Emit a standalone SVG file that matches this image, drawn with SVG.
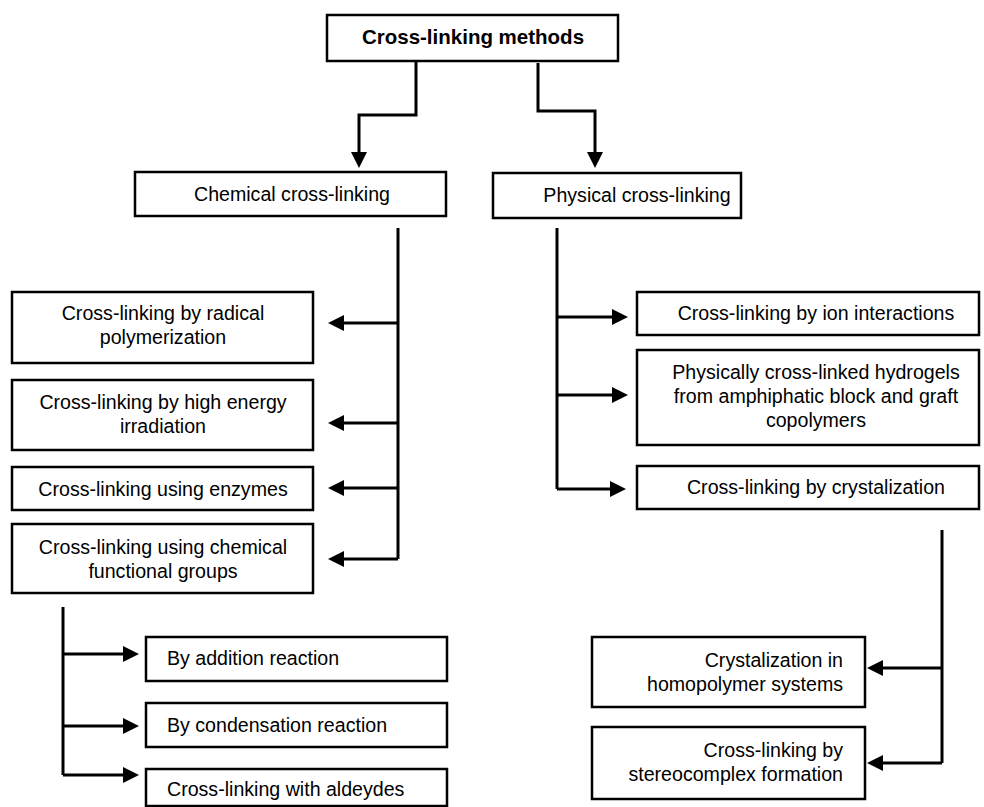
<svg xmlns="http://www.w3.org/2000/svg" width="984" height="807" viewBox="0 0 984 807">
<style>
.box{fill:#fff;stroke:#000;stroke-width:2.5}
.t{font-family:"Liberation Sans",Arial,sans-serif;font-size:19.6px;fill:#000}
.c{text-anchor:middle}
.r{text-anchor:end}
.b{font-weight:bold;font-size:20.5px}
.ln{fill:none;stroke:#000;stroke-width:3}
</style>
<defs>
<marker id="ah" markerUnits="userSpaceOnUse" markerWidth="17" markerHeight="17" refX="0" refY="8" orient="auto">
<path d="M0,0 L16,8 L0,16 z" fill="#000"/>
</marker>
</defs>
<rect width="984" height="807" fill="#fff"/>
<g id="connectors">
<path class="ln" d="M416,61 V115 H359 V152" marker-end="url(#ah)"/>
<path class="ln" d="M538,63 V111 H595 V152" marker-end="url(#ah)"/>
<path class="ln" d="M398,228 V559"/>
<path class="ln" d="M398,323 H344" marker-end="url(#ah)"/>
<path class="ln" d="M398,423 H344" marker-end="url(#ah)"/>
<path class="ln" d="M398,488 H344" marker-end="url(#ah)"/>
<path class="ln" d="M398,559 H344" marker-end="url(#ah)"/>
<path class="ln" d="M557,228 V489"/>
<path class="ln" d="M557,317 H612" marker-end="url(#ah)"/>
<path class="ln" d="M557,395 H612" marker-end="url(#ah)"/>
<path class="ln" d="M557,489 H610" marker-end="url(#ah)"/>
<path class="ln" d="M942,530 V763"/>
<path class="ln" d="M942,668 H883" marker-end="url(#ah)"/>
<path class="ln" d="M942,763 H883" marker-end="url(#ah)"/>
<path class="ln" d="M63,607 V775"/>
<path class="ln" d="M63,654 H123" marker-end="url(#ah)"/>
<path class="ln" d="M63,726 H123" marker-end="url(#ah)"/>
<path class="ln" d="M63,775 H123" marker-end="url(#ah)"/>
</g>
<g id="root">
<rect class="box" x="327" y="15" width="291" height="46"/>
<text class="t c b" x="473" y="44">Cross-linking methods</text>
</g>
<g id="chemical">
<rect class="box" x="135" y="172" width="311" height="44"/>
<text class="t c" x="292" y="201">Chemical cross-linking</text>
</g>
<g id="physical">
<rect class="box" x="493" y="173" width="248" height="45"/>
<text class="t c" x="637" y="202">Physical cross-linking</text>
</g>
<g id="radical">
<rect class="box" x="12" y="292" width="301" height="71"/>
<text class="t c" x="163" y="320">Cross-linking by radical</text>
<text class="t c" x="163" y="344">polymerization</text>
</g>
<g id="irradiation">
<rect class="box" x="12" y="380" width="301" height="70"/>
<text class="t c" x="163" y="409">Cross-linking by high energy</text>
<text class="t c" x="163" y="433">irradiation</text>
</g>
<g id="enzymes">
<rect class="box" x="12" y="467" width="301" height="43"/>
<text class="t c" x="163" y="496">Cross-linking using enzymes</text>
</g>
<g id="functional">
<rect class="box" x="12" y="524" width="301" height="69"/>
<text class="t c" x="163" y="554">Cross-linking using chemical</text>
<text class="t c" x="163" y="578">functional groups</text>
</g>
<g id="ion">
<rect class="box" x="637" y="292" width="342" height="43"/>
<text class="t c" x="816" y="320">Cross-linking by ion interactions</text>
</g>
<g id="hydrogels">
<rect class="box" x="637" y="350" width="342" height="95"/>
<text class="t c" x="816" y="379">Physically cross-linked hydrogels</text>
<text class="t c" x="816" y="403">from amphiphatic block and graft</text>
<text class="t c" x="816" y="427">copolymers</text>
</g>
<g id="crystalization">
<rect class="box" x="637" y="466" width="342" height="43"/>
<text class="t c" x="816" y="494">Cross-linking by crystalization</text>
</g>
<g id="homopolymer">
<rect class="box" x="592" y="637" width="273" height="70"/>
<text class="t r" x="843" y="667">Crystalization in</text>
<text class="t r" x="843" y="691">homopolymer systems</text>
</g>
<g id="stereocomplex">
<rect class="box" x="592" y="727" width="273" height="72"/>
<text class="t r" x="843" y="757">Cross-linking by</text>
<text class="t r" x="843" y="781">stereocomplex formation</text>
</g>
<g id="addition">
<rect class="box" x="146" y="637" width="301" height="44"/>
<text class="t" x="167" y="665">By addition reaction</text>
</g>
<g id="condensation">
<rect class="box" x="146" y="703" width="301" height="44"/>
<text class="t" x="167" y="732">By condensation reaction</text>
</g>
<g id="aldeydes">
<rect class="box" x="146" y="769" width="301" height="37"/>
<text class="t" x="167" y="796">Cross-linking with aldeydes</text>
</g>
</svg>
